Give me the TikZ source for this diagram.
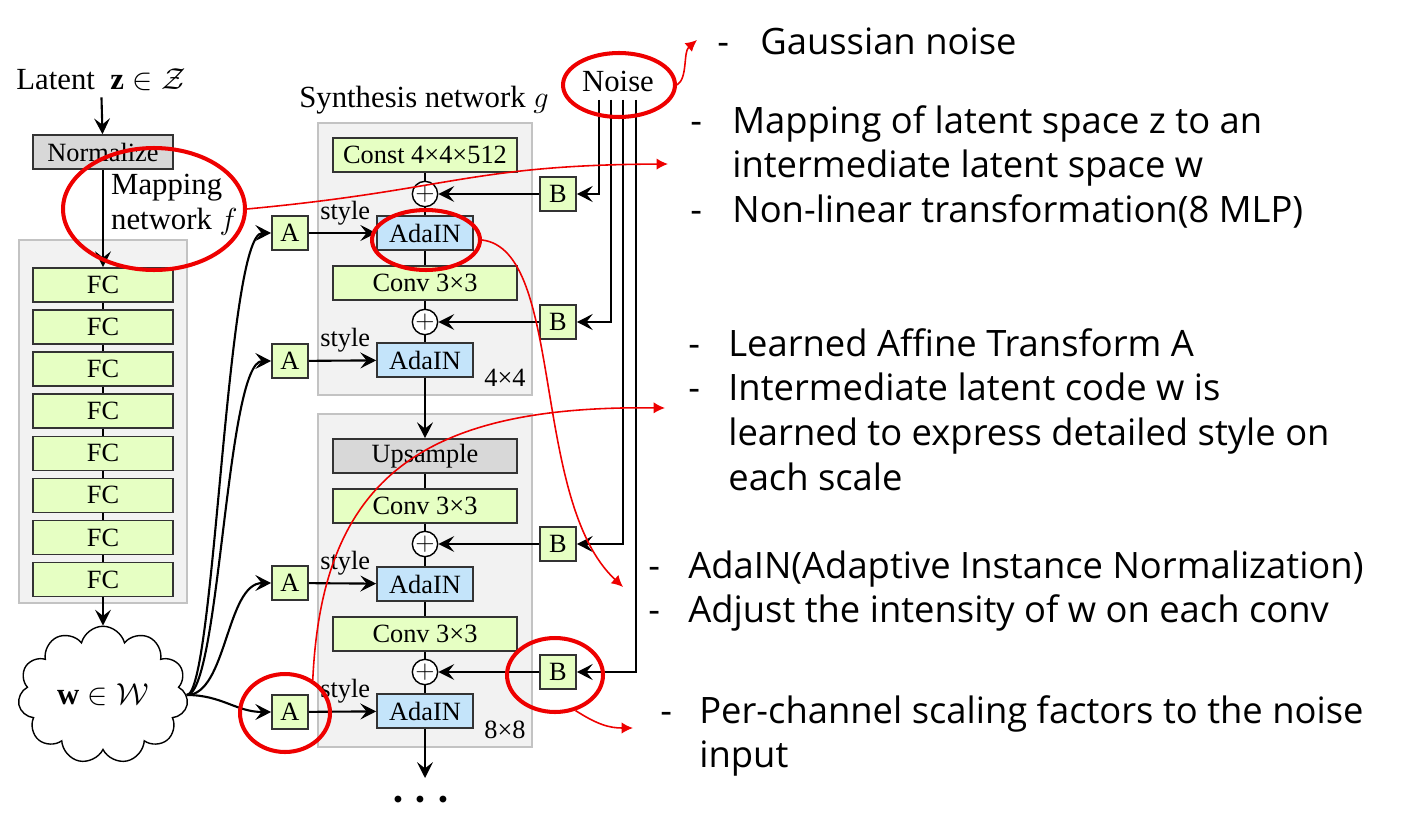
\documentclass[tikz,border=0pt]{standalone}
\usepackage{amssymb,amsmath}
\usepackage{fontspec}
\setmainfont{Liberation Serif}
\newfontfamily\notefont{Open Sans}
\usepackage{tikz}
\usetikzlibrary{positioning,arrows.meta,shapes.symbols,shapes.geometric}

\definecolor{boxgreen}{RGB}{230,255,195}
\definecolor{boxblue}{RGB}{196,228,250}
\definecolor{boxgray}{RGB}{216,216,216}
\definecolor{panelgray}{RGB}{242,242,242}
\definecolor{panelline}{RGB}{195,195,195}
\definecolor{markred}{RGB}{238,0,0}

\begin{document}
\begin{tikzpicture}
    [ x = .02cm, y = -.02cm
    , every node/.style =
      { font = \fontsize{15}{18}\selectfont }
    , block/.style =
      { draw = black!80, line width = .9pt, inner sep = 0pt
      , minimum width = 3.68cm, minimum height = .68cm }
    , wide/.style =
      { block, fill = boxgreen }
    , grayblock/.style =
      { block, fill = boxgray }
    , fc/.style =
      { block, fill = boxgreen, minimum width = 2.8cm }
    , adain/.style =
      { block, fill = boxblue, minimum width = 1.92cm }
    , affine/.style =
      { block, fill = boxgreen, minimum width = .72cm }
    , sum/.style =
      { draw, circle, fill = white, line width = .8pt, inner sep = 0pt
      , minimum size = .5cm }
    , panel/.style =
      { draw = panelline, fill = panelgray, line width = .9pt }
    , heading/.style =
      { font = \fontsize{17.5}{20}\selectfont }
    , link/.style =
      { line width = 1.2pt }
    , arrow/.style =
      { link, -{Stealth[length=9pt, width=9pt, inset=3.5pt]} }
    , ring/.style =
      { draw = markred, line width = 2.3pt, ellipse, inner sep = 0pt }
    , pointer/.style =
      { draw = markred, line width = .9pt, -{Latex[length=6.5pt, width=6.5pt]} }
    , note/.style =
      { anchor = base west, inner sep = 0pt
      , font = \notefont\fontsize{20.7}{25.5}\selectfont }
    , puffy/.style =
      { draw, fill = white, line width = .8pt, cloud, cloud puffs = 11
      , cloud ignores aspect, inner sep = 0pt }
    ]
    \useasboundingbox (0,0) rectangle (1416,821);

    % mapping network
    \node [heading, anchor = base] (latent) at (101,90) {Latent~~$\mathbf{z} \in \mathcal{Z}$};
    \node [grayblock, minimum width = 2.8cm] (norm) at (103,152) {Normalize};
    \node [heading, align = left, anchor = west] (mapname) at (105,205) {Mapping\\network $f$};
    \draw [panel] (19,240) rectangle (187,603);
    \node [fc] (fc1) at (103,285) {FC};
    \node [fc] (fc2) [below=.13cm of fc1] {FC};
    \node [fc] (fc3) [below=.13cm of fc2] {FC};
    \node [fc] (fc4) [below=.13cm of fc3] {FC};
    \node [fc] (fc5) [below=.13cm of fc4] {FC};
    \node [fc] (fc6) [below=.13cm of fc5] {FC};
    \node [fc] (fc7) [below=.13cm of fc6] {FC};
    \node [fc] (fc8) [below=.13cm of fc7] {FC};
    \node [heading, puffy, minimum width = 3.4cm, minimum height = 2.75cm] (w) at (103,695)
          {$\mathbf{w} \in \mathcal{W}$};

    \draw [arrow] (latent) -- (norm);
    \draw [arrow] (norm) -- (fc1);
    \draw [link] (fc1) -- (fc2);
    \draw [link] (fc2) -- (fc3);
    \draw [link] (fc3) -- (fc4);
    \draw [link] (fc4) -- (fc5);
    \draw [link] (fc5) -- (fc6);
    \draw [link] (fc6) -- (fc7);
    \draw [link] (fc7) -- (fc8);
    \draw [arrow] (fc8) -- (w);

    % synthesis network
    \node [heading] (synth) at (424,100) {Synthesis network $g$};
    \draw [panel] (318,123) rectangle (532,395);
    \node [wide] (const) at (425,155) {Const 4×4×512};
    \node [sum] (add1) at (425,194) {$+$};
    \node [adain] (ada1) at (425,233) {AdaIN};
    \node [wide] (conv1) at (425,283) {Conv 3×3};
    \node [sum] (add2) at (425,322) {$+$};
    \node [adain] (ada2) at (425,360) {AdaIN};
    \node (res1) at (505,378) {4×4};

    \draw [panel] (318,414) rectangle (532,747);
    \node [grayblock] (up) at (425,456) {Upsample};
    \node [wide] (conv2) at (425,506) {Conv 3×3};
    \node [sum] (add3) at (425,544) {$+$};
    \node [adain] (ada3) at (425,584) {AdaIN};
    \node [wide] (conv3) at (425,634) {Conv 3×3};
    \node [sum] (add4) at (425,672) {$+$};
    \node [adain] (ada4) at (425,711) {AdaIN};
    \node (res2) at (505,730) {8×8};
    \coordinate (out) at (425,778);
    \node [font = \fontsize{26}{28}\selectfont\boldmath] (more) at (425,800) {$\cdots$};

    \draw [link] (const) -- (add1);
    \draw [link] (add1) -- (ada1);
    \draw [link] (ada1) -- (conv1);
    \draw [link] (conv1) -- (add2);
    \draw [link] (add2) -- (ada2);
    \draw [arrow] (ada2) -- (up);
    \draw [link] (up) -- (conv2);
    \draw [link] (conv2) -- (add3);
    \draw [link] (add3) -- (ada3);
    \draw [link] (ada3) -- (conv3);
    \draw [link] (conv3) -- (add4);
    \draw [link] (add4) -- (ada4);
    \draw [arrow] (ada4) -- (out);

    % styles
    \node [affine] (a1) at (290,233) {A};
    \node [affine] (a2) at (290,361) {A};
    \node [affine] (a3) at (290,583) {A};
    \node [affine] (a4) at (290,712) {A};
    \draw [arrow] (w.east) .. controls +(28,0) and +(-45,0) .. (a1.west);
    \draw [arrow] (w.east) .. controls +(33,0) and +(-45,0) .. (a2.west);
    \draw [arrow] (w.east) .. controls +(40,0) and +(-45,0) .. (a3.west);
    \draw [arrow] (w.east) .. controls +(35,0) and +(-35,0) .. (a4.west);
    \draw [arrow] (a1) -- node [above, pos = .54, inner sep = 4pt] (s1) {style} (ada1);
    \draw [arrow] (a2) -- node [above, pos = .54, inner sep = 4pt] (s2) {style} (ada2);
    \draw [arrow] (a3) -- node [above, pos = .54, inner sep = 4pt] (s3) {style} (ada3);
    \draw [arrow] (a4) -- node [above, pos = .54, inner sep = 4pt] (s4) {style} (ada4);

    % noise
    \node [heading] (noise) at (618,81) {Noise};
    \coordinate (n1) at (599,100);
    \coordinate (n2) at (611,100);
    \coordinate (n3) at (623,100);
    \coordinate (n4) at (636,100);
    \node [affine] (b1) at (558,194) {B};
    \node [affine] (b2) at (558,322) {B};
    \node [affine] (b3) at (558,544) {B};
    \node [affine] (b4) at (558,672) {B};
    \draw [arrow] (n1) |- (b1);
    \draw [arrow] (n2) |- (b2);
    \draw [arrow] (n3) |- (b3);
    \draw [arrow] (n4) |- (b4);
    \draw [arrow] (b1) -- (add1);
    \draw [arrow] (b2) -- (add2);
    \draw [arrow] (b3) -- (add3);
    \draw [arrow] (b4) -- (add4);

    % notes
    \node [ring, minimum width = 2.24cm, minimum height = 1.28cm] (noisering) at (619,85) {};
    \node [ring, minimum width = 3.64cm, minimum height = 2.44cm] (mapring) at (154,209) {};
    \node [ring, minimum width = 2.16cm, minimum height = 1.2cm] (adaring) at (426,240) {};
    \node [ring, minimum width = 1.8cm, minimum height = 1.56cm] (affring) at (285,713) {};
    \node [ring, minimum width = 1.92cm, minimum height = 1.48cm] (scalering) at (555,675) {};

    \node [note] (gauss) at (717,55)
      {\begin{tabular}[t]{@{}p{.86cm}@{}l@{}} - & Gaussian noise \end{tabular}};
    \node [note] (mapnote) at (690,133)
      {\begin{tabular}[t]{@{}p{.84cm}@{}l@{}}
       - & Mapping of latent space z to an \\
         & intermediate latent space w \\
       - & Non-linear transformation(8 MLP)
       \end{tabular}};
    \node [note] (affnote) at (688,356)
      {\begin{tabular}[t]{@{}p{.8cm}@{}l@{}}
       - & Learned Affine Transform A \\
       - & Intermediate latent code w is \\
         & learned to express detailed style on \\
         & each scale
       \end{tabular}};
    \node [note] (adanote) at (648,578)
      {\begin{tabular}[t]{@{}p{.8cm}@{}l@{}}
       - & AdaIN(Adaptive Instance Normalization) \\
       - & Adjust the intensity of w on each conv
       \end{tabular}};
    \node [note] (scalenote) at (660,723)
      {\begin{tabular}[t]{@{}p{.78cm}@{}l@{}}
       - & Per-channel scaling factors to the noise \\
         & input
       \end{tabular}};

    \coordinate (gausstip) at (697,40);
    \coordinate (maptip) at (668,164);
    \coordinate (affinetip) at (665,408);
    \coordinate (adatip) at (623,587);
    \coordinate (scaletip) at (633,728);
    \draw [pointer] (noisering.east) .. controls (688,78) and (683,52) .. (gausstip);
    \draw [pointer] (mapring.east) .. controls (450,190) and (470,165) .. (maptip);
    \draw [pointer] (adaring.east) .. controls (565,250) and (530,500) .. (adatip);
    \draw [pointer] (affring.50) .. controls (322,480) and (420,405) .. (affinetip);
    \draw [pointer] (scalering.300) .. controls (598,725) and (610,728) .. (scaletip);
  \end{tikzpicture}
\end{document}
